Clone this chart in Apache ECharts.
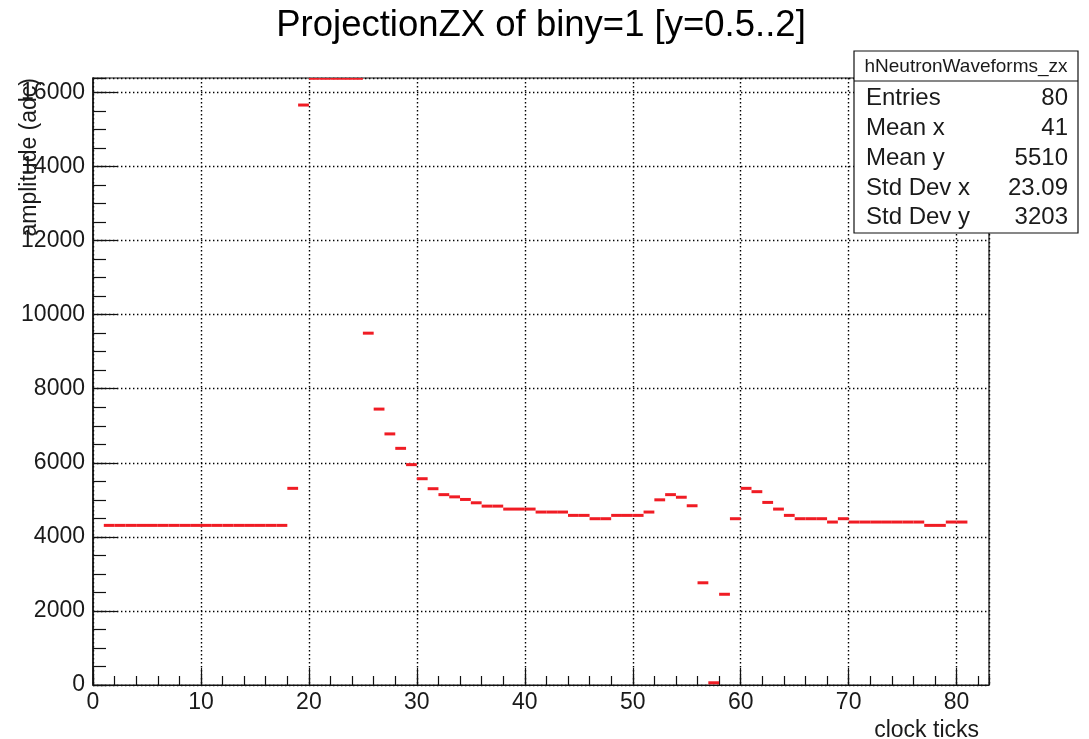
<!DOCTYPE html>
<html>
<head>
<meta charset="utf-8">
<title>ProjectionZX of biny=1</title>
<script src="https://cdn.jsdelivr.net/npm/echarts@6/dist/echarts.min.js"></script>
<style>
  html, body { margin: 0; padding: 0; background: #ffffff; }
  #chart { width: 1089px; height: 739px; }
</style>
</head>
<body>
<div id="chart"></div>
<script>
// Histogram bins: lower edge of each clock-tick bin (width 1)
const binLowEdges = [
  1, 2, 3, 4, 5, 6, 7, 8, 9, 10, 11, 12, 13, 14, 15, 16, 17, 18, 19, 20,
  21, 22, 23, 24, 25, 26, 27, 28, 29, 30, 31, 32, 33, 34, 35, 36, 37, 38, 39, 40,
  41, 42, 43, 44, 45, 46, 47, 48, 49, 50, 51, 52, 53, 54, 55, 56, 57, 58, 59, 60,
  61, 62, 63, 64, 65, 66, 67, 68, 69, 70, 71, 72, 73, 74, 75, 76, 77, 78, 79, 80
];

// Bin contents (amplitude in adc counts)
const amplitudes = [
  4310, 4310, 4310, 4310, 4310, 4310, 4310, 4310, 4310, 4310,
  4310, 4310, 4310, 4310, 4310, 4310, 4310, 5310, 15660, 16383,
  16383, 16383, 16383, 16383, 9500, 7450, 6780, 6390, 5950, 5570,
  5300, 5140, 5080, 5010, 4920, 4830, 4830, 4750, 4750, 4750,
  4670, 4670, 4670, 4580, 4580, 4490, 4490, 4580, 4580, 4580,
  4670, 5000, 5140, 5070, 4840, 2760, 60, 2450, 4490, 5310,
  5220, 4930, 4750, 4580, 4490, 4490, 4490, 4400, 4490, 4400,
  4400, 4400, 4400, 4400, 4400, 4400, 4310, 4310, 4400, 4400
];

// Statistics box contents
const statsName = 'hNeutronWaveforms_zx';
const statsLabels = ['Entries', 'Mean x', 'Mean y', 'Std Dev x', 'Std Dev y'];
const statsValues = ['80', '41', '5510', '23.09', '3203'];

const titleText = 'ProjectionZX of biny=1 [y=0.5..2]';
const xTitle = 'clock ticks';
const yTitle = 'amplitude (adc)';

const FONT = "'Liberation Sans', Arial, Helvetica, sans-serif";
const RED = '#f01c24';
const INK = '#1a1a1a';

const X_MIN = 0, X_MAX = 83;
const Y_MIN = 0, Y_MAX = 16390;

const chart = echarts.init(document.getElementById('chart'), null, { renderer: 'canvas' });

const gridSpec = { left: 93, right: 100, top: 78, bottom: 54 };

const dottedGrid = {
  show: true,
  lineStyle: { color: '#000', width: 1.4, type: [1.4, 2.6] }
};

// stats box geometry
const box = { x: 854, y: 51, w: 224, h: 182, headerH: 30 };
const rowY = [98, 128, 158, 188, 217];

const statsGraphics = [
  {
    type: 'rect',
    shape: { x: box.x, y: box.y, width: box.w, height: box.h },
    style: { fill: '#ffffff', stroke: '#111', lineWidth: 1.2 },
    z: 100
  },
  {
    type: 'line',
    shape: { x1: box.x, y1: box.y + box.headerH, x2: box.x + box.w, y2: box.y + box.headerH },
    style: { stroke: '#111', lineWidth: 1.2 },
    z: 101
  },
  {
    type: 'text',
    x: box.x + box.w / 2, y: box.y + box.headerH / 2 + 1,
    style: { text: statsName, font: '19px ' + FONT, fill: INK, align: 'center', verticalAlign: 'middle' },
    z: 102
  }
];
statsLabels.forEach((lab, i) => {
  statsGraphics.push({
    type: 'text', x: 866, y: rowY[i],
    style: { text: lab, font: '24px ' + FONT, fill: INK, align: 'left', verticalAlign: 'middle' },
    z: 102
  });
  statsGraphics.push({
    type: 'text', x: 1068, y: rowY[i],
    style: { text: statsValues[i], font: '24px ' + FONT, fill: INK, align: 'right', verticalAlign: 'middle' },
    z: 102
  });
});

const plainNumber = v => String(Math.round(v));

const option = {
  backgroundColor: '#ffffff',
  animation: false,
  grid: Object.assign({ show: true, borderColor: '#111', borderWidth: 1.2, backgroundColor: 'transparent' }, gridSpec),
  xAxis: [
    {
      type: 'value', min: X_MIN, max: X_MAX, interval: 10,
      axisLine: { show: true, onZero: false, lineStyle: { color: '#111', width: 1.2 } },
      axisTick: { show: true, inside: true, length: 17, lineStyle: { color: '#111', width: 1.2 } },
      axisLabel: { show: true, showMaxLabel: false, margin: 6, color: INK, fontSize: 23, fontFamily: FONT, formatter: plainNumber },
      splitLine: dottedGrid
    },
    {
      // minor ticks every 2 clock ticks
      type: 'value', min: X_MIN, max: X_MAX, interval: 2, position: 'bottom',
      axisLine: { show: false },
      axisTick: { show: true, inside: true, length: 9, lineStyle: { color: '#111', width: 1.2 } },
      axisLabel: { show: false },
      splitLine: { show: false }
    }
  ],
  yAxis: [
    {
      type: 'value', min: Y_MIN, max: Y_MAX, interval: 2000,
      axisLine: { show: true, onZero: false, lineStyle: { color: '#111', width: 1.5 } },
      axisTick: { show: true, inside: true, length: 25, lineStyle: { color: '#111', width: 1.2 } },
      axisLabel: { show: true, showMaxLabel: false, margin: 8, color: INK, fontSize: 23, fontFamily: FONT, formatter: plainNumber },
      splitLine: dottedGrid
    },
    {
      // minor ticks every 500 adc
      type: 'value', min: Y_MIN, max: Y_MAX, interval: 500, position: 'left',
      axisLine: { show: false },
      axisTick: { show: true, inside: true, length: 13, lineStyle: { color: '#111', width: 1.2 } },
      axisLabel: { show: false },
      splitLine: { show: false }
    }
  ],
  series: [
    {
      type: 'custom',
      xAxisIndex: 0,
      yAxisIndex: 0,
      clip: true,
      data: binLowEdges.map((x, i) => [x, amplitudes[i]]),
      renderItem: function (params, api) {
        const x0 = api.value(0);
        const v = api.value(1);
        const p0 = api.coord([x0, v]);
        const p1 = api.coord([x0 + 1, v]);
        return {
          type: 'line',
          shape: { x1: p0[0], y1: p0[1], x2: p1[0], y2: p1[1] },
          style: { stroke: RED, lineWidth: 3 }
        };
      },
      z: 5
    }
  ],
  graphic: [
    {
      type: 'text', x: 541, y: 26,
      style: { text: titleText, font: '36.5px ' + FONT, fill: '#000', align: 'center', verticalAlign: 'middle' },
      z: 50
    },
    {
      type: 'text', x: 979, y: 731,
      style: { text: xTitle, font: '23px ' + FONT, fill: INK, align: 'right', verticalAlign: 'middle' },
      z: 50
    },
    {
      type: 'text', x: 30, y: 78, rotation: Math.PI / 2,
      style: { text: yTitle, font: '23px ' + FONT, fill: INK, align: 'right', verticalAlign: 'middle' },
      z: 50
    }
  ].concat(statsGraphics)
};

chart.setOption(option);
</script>
</body>
</html>
